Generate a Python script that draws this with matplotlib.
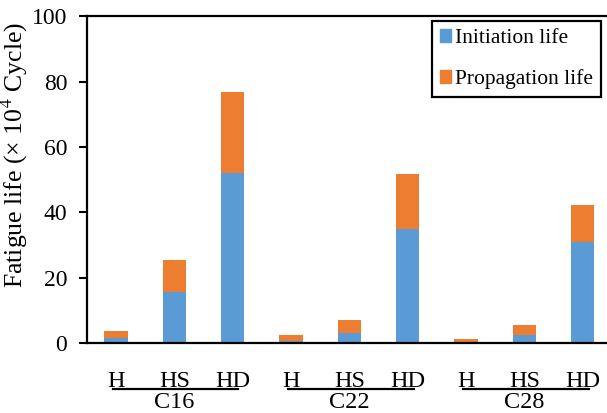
import numpy as np
from matplotlib import pyplot as plt
from matplotlib.patches import Patch
from matplotlib.transforms import blended_transform_factory

plt.rcParams["font.family"] = ["Liberation Serif", "DejaVu Serif"]
plt.rcParams["mathtext.fontset"] = "stix"

groups = ["C16", "C22", "C28"]
types = ["H", "HS", "HD"]
initiation = [1.5, 15.8, 52.0, 0.8, 3.1, 35.0, 0.3, 2.4, 31.0]
propagation = [2.2, 9.6, 24.8, 1.6, 4.1, 16.8, 0.9, 3.1, 11.3]

blue = "#5B9BD5"
orange = "#ED7D31"

fig = plt.figure(figsize=(6.07, 4.13), dpi=100)
ax = fig.add_axes([0.143, 0.169, 0.865, 0.792])

x = np.arange(len(initiation))
ax.bar(x, initiation, width=0.4, color=blue)
ax.bar(x, propagation, width=0.4, bottom=initiation, color=orange)

ax.set_xlim(-0.5, len(x) - 0.5)
ax.set_ylim(0, 100)
ax.set_yticks(np.arange(0, 101, 20))
ax.tick_params(axis="y", direction="out", length=6, width=1.5, pad=8, labelsize=17)
ax.set_xticks([])
for side in ["left", "bottom", "top", "right"]:
    ax.spines[side].set_linewidth(1.6)

ax.set_ylabel("Fatigue life (× 10$^{4}$ Cycle)", fontsize=18.5)
ax.yaxis.set_label_coords(-0.108, 0.575)

# two-level category labels under the axis
trans = blended_transform_factory(ax.transData, ax.transAxes)
for g, name in enumerate(groups):
    for t, lab in enumerate(types):
        ax.text(g * 3 + t, -0.134, lab, transform=trans, ha="center", va="baseline",
                fontsize=17.5, clip_on=False)
    ax.plot([g * 3 - 0.05, g * 3 + 2.1], [-0.141, -0.141], transform=trans,
            color="black", lw=1.6, clip_on=False)
    ax.text(g * 3 + 1, -0.199, name, transform=trans, ha="center", va="baseline",
            fontsize=17.5, clip_on=False)

handles = [Patch(color=blue), Patch(color=orange)]
leg = ax.legend(handles, ["Initiation life", "Propagation life"], loc="upper right",
                bbox_to_anchor=(0.98, 0.985), fontsize=15.5, fancybox=False,
                framealpha=1, edgecolor="black", handlelength=0.5, handleheight=0.5,
                handletextpad=0.2, labelspacing=0.98, borderpad=0.38, borderaxespad=0)
leg.get_frame().set_linewidth(1.6)

fig.savefig("out.png", dpi=100)
